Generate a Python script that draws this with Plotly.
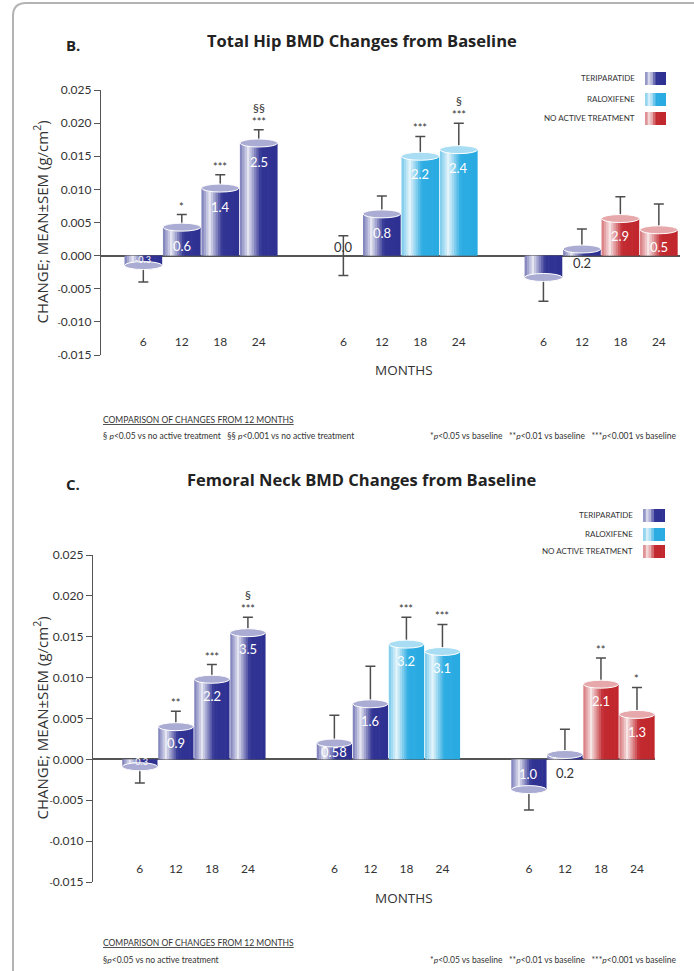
import plotly.graph_objects as go

# ---------------- DATA ----------------
months = ["6", "12", "18", "24"]
arms = {"T": "TERIPARATIDE", "R": "RALOXIFENE", "N": "NO ACTIVE TREATMENT"}
# treatment shown by each bar, per group (same design in both panels)
group_arms = [["T", "T", "T", "T"], ["T", "T", "R", "R"], ["T", "T", "N", "N"]]

# Panel B: Total hip (g/cm2 change, SEM)
hip_values = [[-0.0015, 0.0043, 0.0102, 0.0170],
              [0.0000, 0.0063, 0.0150, 0.0160],
              [-0.0033, 0.0010, 0.0056, 0.0039]]
hip_sem = [[0.0025, 0.0019, 0.0020, 0.0020],
           [0.0030, 0.0027, 0.0030, 0.0040],
           [0.0036, 0.0030, 0.0033, 0.0039]]
hip_pct = ["-0.3", "0.6", "1.4", "2.5", "0.0", "0.8", "2.2", "2.4", "", "0.2", "2.9", "0.5"]
hip_sig = ["", "*", "***", "***", "", "", "***", "***", "", "", "", ""]
hip_sect = ["", "", "", "§§", "", "", "", "§", "", "", "", ""]

# Panel C: Femoral neck
fn_values = [[-0.0009, 0.0040, 0.0098, 0.0155],
             [0.0020, 0.0068, 0.0141, 0.0132],
             [-0.0037, 0.0006, 0.0092, 0.0055]]
fn_sem = [[0.0020, 0.0019, 0.0018, 0.0019],
          [0.0034, 0.0046, 0.0033, 0.0033],
          [0.0025, 0.0031, 0.0032, 0.0033]]
fn_pct = ["-0.3", "0.9", "2.2", "3.5", "0.58", "1.6", "3.2", "3.1", "1.0", "0.2", "2.1", "1.3"]
fn_sig = ["", "**", "***", "***", "", "", "***", "***", "", "", "**", "*"]
fn_sect = ["", "", "", "§", "", "", "", "", "", "", "", ""]

y_ticks = [-0.015, -0.010, -0.005, 0.000, 0.005, 0.010, 0.015, 0.020, 0.025]

# ---------------- STYLE ----------------
W, H = 694, 971
FONT = "Lato"
WIDE = "Open Sans"
TXT = "#333333"
BASE = {"T": (46, 49, 146), "R": (41, 171, 226), "N": (193, 39, 45)}
SP = "&nbsp;&nbsp;&nbsp;"


def X(px):
    return px / W


def Y(py):
    return 1 - py / H


def mix(c, w):
    r, g, b = c
    return "rgb(%d,%d,%d)" % (r + (255 - r) * w, g + (255 - g) * w, b + (255 - b) * w)


def highlight(t):
    pts = [(0.0, 0.35), (0.22, 0.88), (0.55, 0.02), (1.0, 0.0)]
    for (t0, w0), (t1, w1) in zip(pts[:-1], pts[1:]):
        if t0 <= t <= t1:
            return w0 + (w1 - w0) * (t - t0) / (t1 - t0)
    return 0.0


def tick_label(t):
    s = "%.3f" % t
    if s.startswith("-"):
        return "<span style='font-size:9px'>-</span>" + s[1:]
    return s


def ptext(px, py, text, size, xanchor="center", color=TXT, family=FONT, **kw):
    d = dict(xref="paper", yref="paper", x=X(px), y=Y(py), xanchor=xanchor,
             yanchor="middle", text=text, showarrow=False,
             font=dict(family=family, size=size, color=color))
    d.update(kw)
    return d


panels = [
    dict(values=hip_values, sem=hip_sem, pct=hip_pct, sig=hip_sig, sect=hip_sect,
         xa="x", ya="y", xkey="xaxis", ykey="yaxis", gap=5.2, xr=[-1.1, 13.95],
         xpx=(101, 680), ypx=(90, 355), month_pos=333, months_y=370,
         shift=[6, -19, -19, -19, 9, -19, -18, -18, 0, -14, -17, -17],
         title="Total Hip BMD Changes from Baseline", letter="B.", title_y=40, letter_y=45,
         legend_y=[78, 99, 118], legend_x=(645, 666), legend_tx=637),
    dict(values=fn_values, sem=fn_sem, pct=fn_pct, sig=fn_sig, sect=fn_sect,
         xa="x2", ya="y2", xkey="xaxis2", ykey="yaxis2", gap=5.4, xr=[-1.3, 14.3],
         xpx=(93, 655), ypx=(555, 882), month_pos=860, months_y=898,
         shift=[5, -16, -17, -16, -9, -17, -17, -17, 16, -19, -17, -18],
         title="Femoral Neck BMD Changes from Baseline", letter="C.", title_y=479, letter_y=484,
         legend_y=[515, 534, 551], legend_x=(643, 665), legend_tx=635),
]

fig = go.Figure()
shapes = []
annotations = []
layout = {}
N = 16
BW = 0.98

for p in panels:
    pos, vals, sems, cols = [], [], [], []
    for g, grp in enumerate(p["values"]):
        for i, v in enumerate(grp):
            pos.append(g * p["gap"] + i)
            vals.append(v)
            sems.append(p["sem"][g][i])
            cols.append(group_arms[g][i])

    # cylinder bars: vertical gradient slices, each with the bar's own value
    dw = BW / N
    for k in range(N):
        t = (k + 0.5) / N
        w = highlight(t)
        fig.add_trace(go.Bar(
            x=pos, y=vals, xaxis=p["xa"], yaxis=p["ya"],
            offset=-BW / 2 + k * dw, width=dw * (1.3 if k < N - 1 else 1.0),
            marker=dict(color=[mix(BASE[c], w) for c in cols], line=dict(width=0)),
            showlegend=False, hoverinfo="skip"))

    # error bars (one-sided away from zero)
    ep = [s if v >= 0 else 0 for v, s in zip(vals, sems)]
    em = [s if v <= 0 else 0 for v, s in zip(vals, sems)]
    fig.add_trace(go.Scatter(
        x=pos, y=vals, xaxis=p["xa"], yaxis=p["ya"], mode="markers",
        marker=dict(size=1, color="rgba(0,0,0,0)"),
        error_y=dict(type="data", array=ep, arrayminus=em, color="#4d4d4d",
                     thickness=1.5, width=5, symmetric=False),
        showlegend=False, hoverinfo="skip"))

    # cylinder caps
    y_unit_px = (p["ypx"][1] - p["ypx"][0]) / (y_ticks[-1] - y_ticks[0])
    ch = 8 / y_unit_px
    for x0, v, c in zip(pos, vals, cols):
        if v == 0:
            continue
        shapes.append(dict(type="circle", xref=p["xa"], yref=p["ya"],
                           x0=x0 - BW / 2, x1=x0 + BW / 2, y0=v - ch / 2, y1=v + ch / 2,
                           fillcolor=mix(BASE[c], 0.6), line=dict(color="white", width=1),
                           layer="above"))

    # value labels
    for x0, v, txt, sh in zip(pos, vals, p["pct"], p["shift"]):
        if not txt:
            continue
        outside = abs(v) < 0.0012 and not txt.startswith("-")
        small = txt.startswith("-")
        annotations.append(dict(xref=p["xa"], yref=p["ya"], x=x0, y=v, yshift=sh,
                                xanchor="center", yanchor="middle",
                                text=txt, showarrow=False,
                                font=dict(family=FONT, size=9 if small else 13,
                                          color=TXT if outside else "white")))
    # significance marks
    for x0, v, s, st, ss in zip(pos, vals, sems, p["sig"], p["sect"]):
        top = v + s
        if st:
            annotations.append(dict(xref=p["xa"], yref=p["ya"], x=x0, y=top, yanchor="bottom",
                                    xanchor="center", yshift=0, text=st, showarrow=False,
                                    font=dict(family=FONT, size=11, color=TXT)))
        if ss:
            annotations.append(dict(xref=p["xa"], yref=p["ya"], x=x0, y=top, yanchor="bottom",
                                    xanchor="center", yshift=13, text=ss, showarrow=False,
                                    font=dict(family=FONT, size=12, color=TXT)))

    layout[p["xkey"]] = dict(domain=[X(p["xpx"][0]), X(p["xpx"][1])], range=p["xr"],
                             anchor="free", position=Y(p["month_pos"]),
                             tickvals=pos, ticktext=months * 3, ticks="", showline=False,
                             showgrid=False, zeroline=False,
                             tickfont=dict(family=FONT, size=12, color=TXT))
    layout[p["ykey"]] = dict(domain=[Y(p["ypx"][1]), Y(p["ypx"][0])],
                             range=[y_ticks[0], y_ticks[-1]], anchor=p["xa"],
                             tickvals=y_ticks, ticktext=[tick_label(t) for t in y_ticks],
                             ticks="outside", ticklen=6, tickcolor="#555", tickwidth=1.2,
                             showline=True, linecolor="#555", linewidth=1.2,
                             showgrid=False, zeroline=True, zerolinecolor="#555",
                             zerolinewidth=1.5,
                             tickfont=dict(family=FONT, size=12, color=TXT))

    # axis titles
    annotations.append(ptext(41, (p["ypx"][0] + p["ypx"][1]) / 2,
                             "CHANGE; MEAN±SEM (g/cm<sup>2</sup>)", 15, family=WIDE,
                             textangle=-90))
    annotations.append(ptext(404, p["months_y"], "MONTHS", 13.5, family=WIDE))
    # titles
    annotations.append(ptext(362, p["title_y"], "<b>%s</b>" % p["title"], 16.5,
                             color="#222", family=WIDE))
    annotations.append(ptext(64, p["letter_y"], "<b>%s</b>" % p["letter"], 15,
                             xanchor="left", color="#222", family=WIDE))
    # legend
    for key, ly in zip(["T", "R", "N"], p["legend_y"]):
        annotations.append(ptext(p["legend_tx"], ly, arms[key], 8, xanchor="right"))
        lx0, lx1 = p["legend_x"]
        ns = 8
        for k in range(ns):
            w = highlight((k + 0.5) / ns)
            a = lx0 + (lx1 - lx0) * k / ns
            b = lx0 + (lx1 - lx0) * (k + 1) / ns + (0.6 if k < ns - 1 else 0)
            shapes.append(dict(type="rect", xref="paper", yref="paper",
                               x0=X(a), x1=X(b), y0=Y(ly + 7), y1=Y(ly - 6),
                               fillcolor=mix(BASE[key], w), line=dict(width=0)))

# footnotes
right_note = ("*<i>p</i>&lt;0.05 vs baseline" + SP + "**<i>p</i>&lt;0.01 vs baseline" + SP +
              "***<i>p</i>&lt;0.001 vs baseline")
foot = [
    (420, "<u>COMPARISON OF CHANGES FROM 12 MONTHS</u>", 101, "left"),
    (436, "§ <i>p</i>&lt;0.05 vs no active treatment" + SP +
     "§§ <i>p</i>&lt;0.001 vs no active treatment", 101, "left"),
    (436, right_note, 679, "right"),
    (943, "<u>COMPARISON OF CHANGES FROM 12 MONTHS</u>", 101, "left"),
    (960, "§<i>p</i>&lt;0.05 vs no active treatment", 101, "left"),
    (960, right_note, 679, "right"),
]
for fy, ftxt, fx, fa in foot:
    annotations.append(ptext(fx, fy, ftxt, 8.5, xanchor=fa))

# rounded frame
shapes.append(dict(type="path", xref="paper", yref="paper",
                   path="M %f,%f L %f,%f Q %f,%f %f,%f L %f,%f" % (
                       X(13), Y(975), X(13), Y(16), X(13), Y(3), X(26), Y(3), X(700), Y(3)),
                   line=dict(color="#b3b3b3", width=2)))

fig.update_layout(width=W, height=H, margin=dict(l=0, r=0, t=0, b=0, autoexpand=False),
                  paper_bgcolor="white", plot_bgcolor="white", barmode="overlay",
                  showlegend=False, shapes=shapes, annotations=annotations,
                  font=dict(family=FONT, color=TXT), **layout)

fig.write_html("out.html")
